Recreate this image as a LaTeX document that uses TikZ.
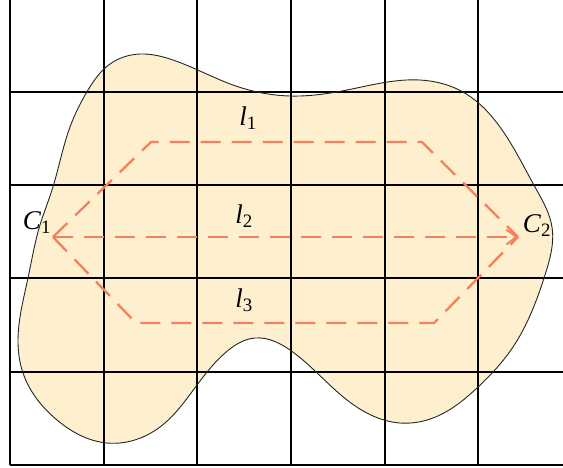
\documentclass[tikz,border=0pt]{standalone}
\usepackage{fontspec}
\setmainfont{Liberation Serif}
\usetikzlibrary{arrows.meta,hobby}
\definecolor{blobfill}{RGB}{254,240,206}
\definecolor{pathcol}{RGB}{244,128,96}
\begin{document}
\begin{tikzpicture}[x=1pt,y=-1pt,
  gridline/.style={line width=1.6pt, black},
  route/.style={pathcol, line width=2.3pt, dash pattern=on 20pt off 11pt},
  lab/.style={inner sep=0pt, font=\fontsize{27}{27}\selectfont}]
\useasboundingbox (0,0) rectangle (563,467);
\fill[blobfill, use Hobby shortcut, closed=true] (52,190) .. (70,127) .. (88,90) .. (110,64) .. (140,54) .. (170,59) .. (233,85) .. (290,96) .. (347,90) .. (420,80) .. (463,92) .. (500,127) .. (535,187) .. (552,227) .. (545,275) .. (513,347) .. (477,388) .. (433,418) .. (400,423) .. (347,400) .. (290,350) .. (255,338) .. (225,353) .. (197,385) .. (160,427) .. (107,443) .. (57,420) .. (23,373) .. (18,340) .. (28,278) .. (40,225);
% grid
\foreach \x in {10,104,197,291,385,478} \draw[gridline] (\x,0) -- (\x,465);
\foreach \y in {92,185,278,372,465} \draw[gridline] (10,\y) -- (563,\y);
\draw[line width=0.9pt, black!85, use Hobby shortcut, closed=true] (52,190) .. (70,127) .. (88,90) .. (110,64) .. (140,54) .. (170,59) .. (233,85) .. (290,96) .. (347,90) .. (420,80) .. (463,92) .. (500,127) .. (535,187) .. (552,227) .. (545,275) .. (513,347) .. (477,388) .. (433,418) .. (400,423) .. (347,400) .. (290,350) .. (255,338) .. (225,353) .. (197,385) .. (160,427) .. (107,443) .. (57,420) .. (23,373) .. (18,340) .. (28,278) .. (40,225);
% routes
\coordinate (P1) at (53,237);
\coordinate (P2) at (518,237);
\coordinate (A1) at (151,142);
\coordinate (A2) at (422,142);
\coordinate (B1) at (136,323);
\coordinate (B2) at (434,323);
\draw[route] (P1) -- (A1) -- (A2) -- (P2);
\draw[route] (P1) -- (B1) -- (B2) -- (P2);
\draw[route, -{Straight Barb[length=10pt,width=15pt,line width=2pt]}] (P1) -- (P2);
% labels
\node[lab] (c1) at (37,223) {\textit{C}\textsubscript{1}};
\node[lab] (c2) at (537,226) {\textit{C}\textsubscript{2}};
\node[lab] (l1) at (248,118) {\textit{l}\textsubscript{1}};
\node[lab] (l2) at (244,216) {\textit{l}\textsubscript{2}};
\node[lab] (l3) at (244,300) {\textit{l}\textsubscript{3}};
\end{tikzpicture}
\end{document}
